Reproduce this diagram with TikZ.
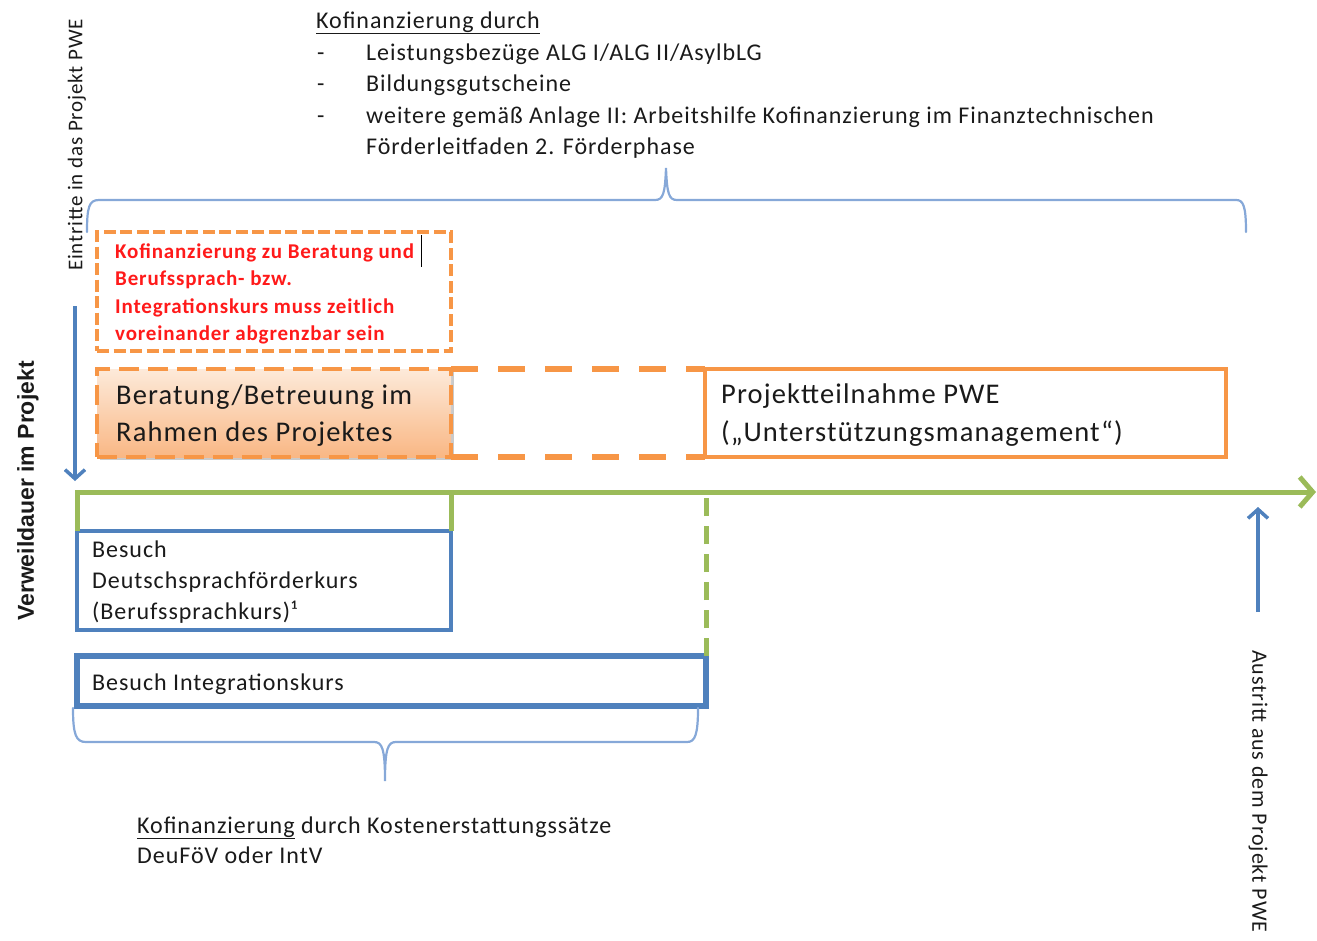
\documentclass[tikz,border=0pt]{standalone}
\usepackage{fontspec}
\setmainfont{Carlito}[LetterSpace=4]
\newfontfamily\arialfont{Liberation Sans}
\usetikzlibrary{arrows.meta,shadows,calc}
\definecolor{ora}{HTML}{F79646}
\definecolor{blu}{HTML}{4F81BD}
\definecolor{grn}{HTML}{9BBB59}
\definecolor{brc}{HTML}{86A8D8}
\definecolor{txt}{HTML}{1A1A1A}
\definecolor{redt}{HTML}{FF1A1A}
\definecolor{bertop}{HTML}{FDEADA}
\definecolor{berbot}{HTML}{F9B784}
\begin{document}
\begin{tikzpicture}[x=1pt,y=-1pt,
  lbl/.style={anchor=base west, inner sep=0pt, text=txt, font=\fontsize{24}{28}\selectfont},
  biglbl/.style={anchor=base west, inner sep=0pt, text=txt, font=\fontsize{28.5}{33}\selectfont},
  redlbl/.style={anchor=base west, inner sep=0pt, text=redt, font=\bfseries\fontsize{21}{25}\selectfont},
  sidelbl/.style={inner sep=0pt, text=txt},
  brace/.style={draw=brc, line width=2.2pt, line cap=round},
  boxbase/.style={anchor=north west, inner sep=0pt, outer sep=0pt},
  rbox/.style={boxbase, draw=ora, line width=3.8pt, dash pattern=on 12pt off 4.5pt, fill=white},
  berbox/.style={boxbase, draw=ora, line width=4.8pt, dash pattern=on 20pt off 9pt, top color=bertop, bottom color=berbot,
     drop shadow={shadow xshift=2.5pt, shadow yshift=-3pt, opacity=0.35, fill=black!60}},
  obox/.style={boxbase, draw=ora, line width=4.5pt, fill=white},
  bbox/.style={boxbase, draw=blu, line width=4.5pt, fill=white},
  gline/.style={draw=grn, line width=5pt},
  barrow/.style={draw=blu, line width=3.5pt, -{Straight Barb[length=9pt,width=20pt,line width=3.5pt]}}
]
\useasboundingbox (0,0) rectangle (1317,940);

% top text block
\node[lbl] (t0) at (316,28) {\underline{Kofinanzierung durch}};
\node[lbl] (d1) at (317,60) {-};
\node[lbl] (t1) at (366,60) {Leistungsbezüge ALG I/ALG II/AsylbLG};
\node[lbl] (d2) at (317,91) {-};
\node[lbl] (t2) at (366,91) {Bildungsgutscheine};
\node[lbl] (d3) at (317,123) {-};
\node[lbl] (t3) at (366,123) {weitere gemäß Anlage II: Arbeitshilfe Kofinanzierung im Finanztechnischen};
\node[lbl] (t4) at (366,154) {Förderleitfaden 2. Förderphase};

% top brace
\coordinate (tb1) at (87,232);
\coordinate (tbm) at (666,168);
\coordinate (tb2) at (1246,232);
\draw[brace] (tb1) .. controls (87,207) and (89,200) .. (99,200) -- (655,200)
  .. controls (663,200) and (665,194) .. (tbm) .. controls (667,194) and (669,200) .. (677,200)
  -- (1236,200) .. controls (1243,200) and (1246,205) .. (tb2);

% left side labels
\node[sidelbl, font=\fontsize{21}{25}\selectfont, rotate=90, anchor=west] (ein) at (77,271) {Eintritte in das Projekt PWE};
\node[sidelbl, font=\arialfont\bfseries\fontsize{23}{27}\selectfont, rotate=90, anchor=west] (vw) at (28,621) {Verweildauer im Projekt};
\coordinate (la1) at (75,306);
\coordinate (la2) at (75,481);
\draw[barrow] (la1) -- (la2);

% red note box
\node[rbox, minimum width=354pt, minimum height=119pt] (rb) at (97,232) {};
\node[redlbl] (r1) at (115,258) {Kofinanzierung zu Beratung und};
\node[redlbl] (r2) at (115,285) {Berufssprach- bzw.};
\node[redlbl] (r3) at (115,313) {Integrationskurs muss zeitlich};
\node[redlbl] (r4) at (115,340) {voreinander abgrenzbar sein};
\draw[black, line width=1.2pt] (421.5,235) -- (421.5,267);

% Beratung box
\node[berbox, minimum width=354pt, minimum height=88pt] (ber) at (97,369) {};
\node[biglbl] (b1) at (116,404) {Beratung/Betreuung im};
\node[biglbl] (b2) at (116,441) {Rahmen des Projektes};

% Projektteilnahme box
\node[obox, minimum width=521pt, minimum height=88pt] (pt) at (705,369) {};
\node[biglbl] (p1) at (721,403) {Projektteilnahme PWE};
\node[biglbl] (p2) at (721,441) {(„Unterstützungsmanagement“)};

% dashed extension
\draw[ora, line width=6pt, dash pattern=on 27pt off 20pt] (ber.north east) -- (pt.north west);
\draw[ora, line width=6pt, dash pattern=on 27pt off 20pt] (ber.south east) -- (pt.south west);

% blue course boxes
\node[bbox, minimum width=374pt, minimum height=99pt] (db) at (77,531) {};
\node[lbl] (k1) at (92,557) {Besuch};
\node[lbl] (k2) at (92,588) {Deutschsprachförderkurs};
\node[lbl] (k3) at (92,619) {(Berufssprachkurs)¹};
\node[bbox, line width=6pt, minimum width=629pt, minimum height=50pt] (ik) at (77,656) {};
\node[lbl] (k4) at (92,690) {Besuch Integrationskurs};

% green time axis
\coordinate (gstart) at (77,492);
\coordinate (gend) at (1316,492);
\draw[gline, line join=miter, -{Straight Barb[length=13pt,width=30pt,line width=5pt]}] (db.north west) -- (gstart) -- (gend);
\draw[gline] (db.north east) -- (db.north east |- gstart);
\draw[gline, dash pattern=on 18pt off 10pt] (ik.north east) -- (ik.north east |- gstart);

% right exit arrow and label
\coordinate (ra1) at (1258,612);
\coordinate (ra2) at (1258,507);
\draw[barrow] (ra1) -- (ra2);
\node[sidelbl, font=\fontsize{22}{26}\selectfont, rotate=-90, anchor=west] (aus) at (1258,650) {Austritt aus dem Projekt PWE};

% bottom brace
\coordinate (bb1) at (73,708);
\coordinate (bbm) at (385,781);
\coordinate (bb2) at (698,708);
\draw[brace] (bb1) .. controls (73,735) and (76,742) .. (86,742) -- (374,742)
  .. controls (382,742) and (385,748) .. (bbm) .. controls (385,748) and (388,742) .. (396,742)
  -- (687,742) .. controls (695,742) and (698,735) .. (bb2);

% bottom text
\node[lbl] (f1) at (137,833) {\underline{Kofinanzierung} durch Kostenerstattungssätze};
\node[lbl] (f2) at (137,863) {DeuFöV oder IntV};
\end{tikzpicture}
\end{document}
